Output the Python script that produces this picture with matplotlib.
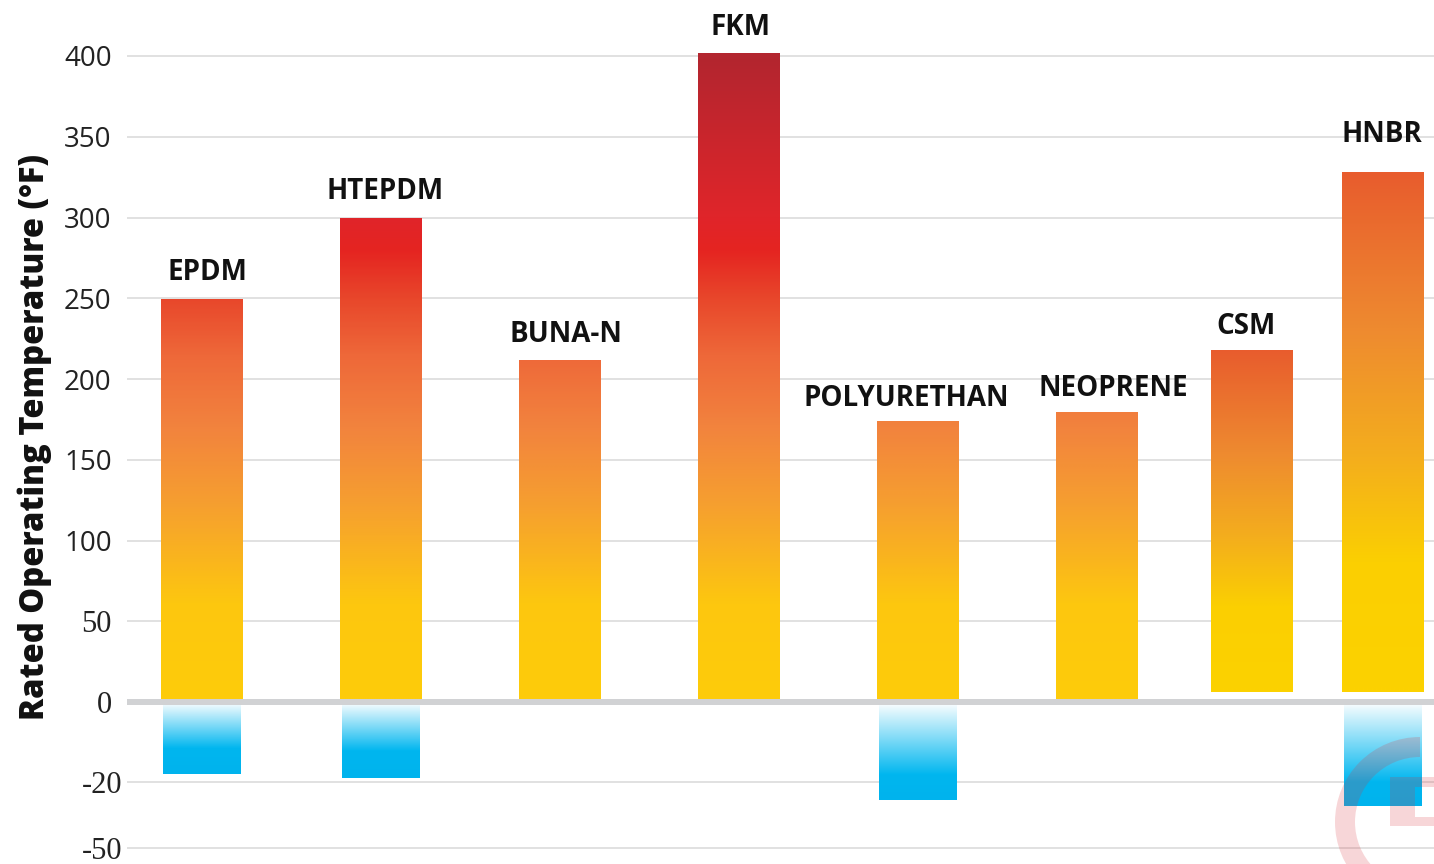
import numpy as np
import matplotlib
matplotlib.use('Agg')
from matplotlib import pyplot as plt
from matplotlib.colors import LinearSegmentedColormap, Normalize
from matplotlib.transforms import ScaledTranslation
from matplotlib.patches import Wedge, Rectangle


# data
materials = ['EPDM', 'HTEPDM', 'BUNA-N', 'FKM', 'POLYURETHAN', 'NEOPRENE', 'CSM', 'HNBR']
max_temp  = [250, 300, 212, 402, 174, 180, 218, 328]
min_temp  = [-18, -19, np.nan, np.nan, -28, np.nan, np.nan, -31]
bar_base  = [0, 0, 0, 0, 0, 0, 6, 6]
yticks    = [-50, -20, 0, 50, 100, 150, 200, 250, 300, 350, 400]

# layout (category slots, label nudges in px)
slots    = [0, 1, 2, 3, 4, 5, 5.866, 6.598]
label_dx = [5, 4, 6, 2, -12, 16, -6, -1]
label_dy = [0, 0, 0, 0, -3, -3, -2, 12]
rel_grad = [False]*6 + [True]*2      # last two bars carry their own gradient


# the chart's y axis is piecewise linear (negative part stretched)
val_pts = [-1000, -50, -20, 0, 400, 2000]
pix_pts = [-146 - 950*2.2, -146, -80, 0, 646, 646 + 1600*1.615]
def fwd(v):
    return np.interp(v, val_pts, pix_pts)
def inv(u):
    return np.interp(u, pix_pts, val_pts)


heat = LinearSegmentedColormap.from_list('heat', [
    (0/400, '#FECC0A'), (60/400, '#FDC70F'), (120/400, '#F6A02F'),
    (170/400, '#F2833E'), (215/400, '#EE6839'), (250/400, '#E8472B'),
    (280/400, '#E52421'), (300/400, '#E0252A'), (400/400, '#B3262F')])
heat_rel = LinearSegmentedColormap.from_list('heat_rel', [
    (0.0, '#FCD200'), (0.25, '#FBCF02'), (0.45, '#F4AE1D'),
    (0.70, '#EE8A30'), (1.0, '#E85C2D')])
cold = LinearSegmentedColormap.from_list('cold', [
    (0.0, '#FFFFFF'), (0.65, '#00B6EF'), (1.0, '#00B3ED')])


plt.rcParams['font.family'] = ['Open Sans', 'DejaVu Sans']
fig = plt.figure(figsize=(14.34, 8.64), dpi=100)
ax  = fig.add_axes([127/1434, 0, 1307/1434, 1])
ax.set_yscale('function', functions=(fwd, inv))

w = 0.46
for i, (name, hi, lo, b) in enumerate(zip(materials, max_temp, min_temp, bar_base)):
    x = slots[i]
    if rel_grad[i]:
        g = np.linspace(0, 1, 256).reshape(-1, 1)
        ax.imshow(g, extent=[x-w/2, x+w/2, b, hi], origin='lower', aspect='auto',
                  cmap=heat_rel, norm=Normalize(0, 1), zorder=2, interpolation='bilinear')
    else:
        g = np.linspace(b, hi, 256).reshape(-1, 1)
        ax.imshow(g, extent=[x-w/2, x+w/2, b, hi], origin='lower', aspect='auto',
                  cmap=heat, norm=Normalize(0, 400), zorder=2, interpolation='bilinear')
    if not np.isnan(lo):
        g = np.linspace(0, 1, 256).reshape(-1, 1)
        ax.imshow(g, extent=[x-w/2*0.95, x+w/2*0.95, lo, 0], origin='upper', aspect='auto',
                  cmap=cold, norm=Normalize(0, 1), zorder=2, interpolation='bilinear')
    ax.annotate(name, (x, hi), xytext=(label_dx[i]*0.72, 8 + label_dy[i]*0.72),
                textcoords='offset points', ha='center', va='bottom',
                fontsize=20, fontweight='bold', color='#111111')

ax.axhline(0, color='#D1D2D4', lw=4.3, zorder=3)

ax.set_xlim(-0.419, 6.883)
ax.set_ylim(inv(-162), inv(702))
ax.set_yticks(yticks)
labs = ax.set_yticklabels([str(t) for t in yticks])
ax.set_xticks([])
ax.tick_params(axis='y', length=0, pad=11, labelsize=20, labelcolor='#222222')
ax.yaxis.grid(True, color='#DCDCDC', lw=1.2, zorder=0)
ax.set_axisbelow(True)
for s in ax.spines.values():
    s.set_visible(False)

for lab, t in zip(labs, yticks):
    if t <= 50:
        lab.set_fontfamily('Liberation Serif')
        lab.set_fontsize(22)
    if t < 0:
        lab.set_transform(lab.get_transform() + ScaledTranslation(0.11, 0, fig.dpi_scale_trans))

fig.text(35/1434, 1 - 437/864, 'Rated Operating Temperature (°F)', rotation=90,
         ha='center', va='center', fontsize=23.5, fontweight=800, color='#111111')

# faint logo watermark, bottom right
wm = dict(color='#D9343D', alpha=0.2, lw=0, transform=fig.dpi_scale_trans, zorder=10)
fig.add_artist(Wedge((14.20, 0.42), 0.85, 90, 270, width=0.2, **wm))
fig.add_artist(Rectangle((13.90, 0.38), 0.25, 0.49, **wm))
fig.add_artist(Rectangle((14.15, 0.77), 0.19, 0.10, **wm))
fig.add_artist(Rectangle((14.15, 0.38), 0.19, 0.09, **wm))

plt.savefig('out.png', dpi=100)
